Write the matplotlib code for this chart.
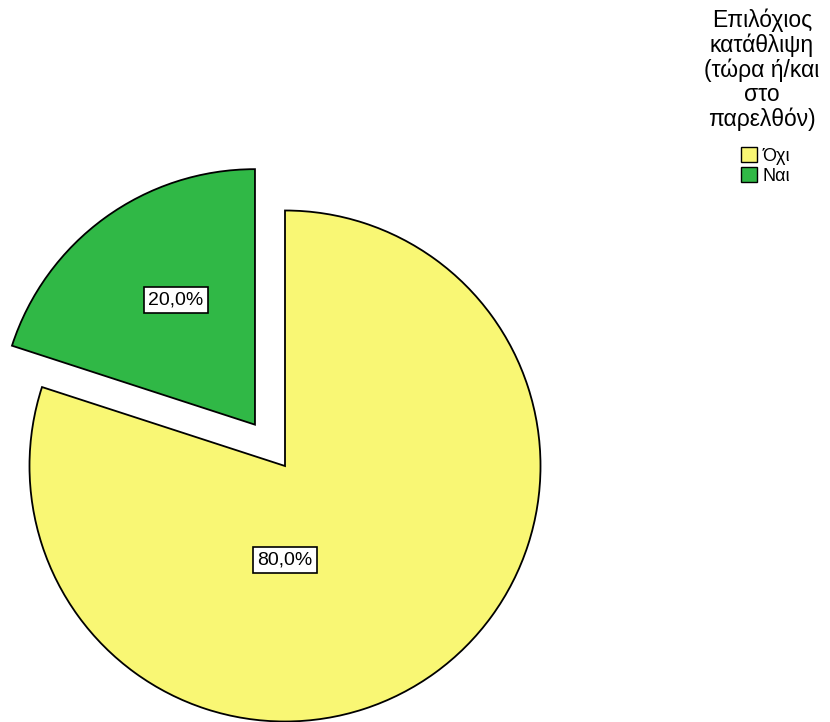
import matplotlib; matplotlib.use("Agg")
import matplotlib.pyplot as plt
import numpy as np

plt.rcParams["font.family"] = ["Liberation Sans", "DejaVu Sans"]

labels = ["Ναι", "Όχι"]
shares = [20.0, 80.0]
colors = ["#30B846", "#F9F774"]
legend_order = ["Όχι", "Ναι"]
title = "Επιλόχιος\nκατάθλιψη\n(τώρα ή/και\nστο\nπαρελθόν)"

W, H = 830, 722
fig = plt.figure(figsize=(W / 100, H / 100), dpi=100)
ax = fig.add_axes([0, 0, 1, 1])

cx, cy, r = 285, H - 466, 255.5
# explode is in data units, so scale by the radius
wedges, _ = ax.pie(shares, colors=colors, startangle=90, counterclock=True,
                   explode=[0.2 * r, 0], center=(cx, cy), radius=r, frame=True,
                   wedgeprops=dict(edgecolor="black", linewidth=1.3))
ax.set_xlim(0, W); ax.set_ylim(0, H); ax.set_aspect("equal"); ax.axis("off")

# percentage boxes
box = dict(boxstyle="square,pad=0.22", fc="white", ec="black", lw=1.2)
ax.text(176, H - 300, f"{shares[0]:.1f}%".replace(".", ","), ha="center", va="center",
        fontsize=14, bbox=box)
ax.text(cx, H - 560, f"{shares[1]:.1f}%".replace(".", ","), ha="center", va="center",
        fontsize=14, bbox=box)

fig.text(762 / W, 1 - 9 / H, title, ha="center", va="top", fontsize=16.5, linespacing=1.07)
handles = [wedges[labels.index(l)] for l in legend_order]
leg = fig.legend(handles, legend_order, loc="upper left", bbox_to_anchor=(732 / W, 1 - 138 / H),
                 frameon=False, fontsize=13, handlelength=0.9, handleheight=0.9,
                 handletextpad=0.3, labelspacing=0.12, borderpad=0)
for h in leg.legend_handles:
    h.set_linewidth(1.0)

fig.savefig("out.png", dpi=100)
